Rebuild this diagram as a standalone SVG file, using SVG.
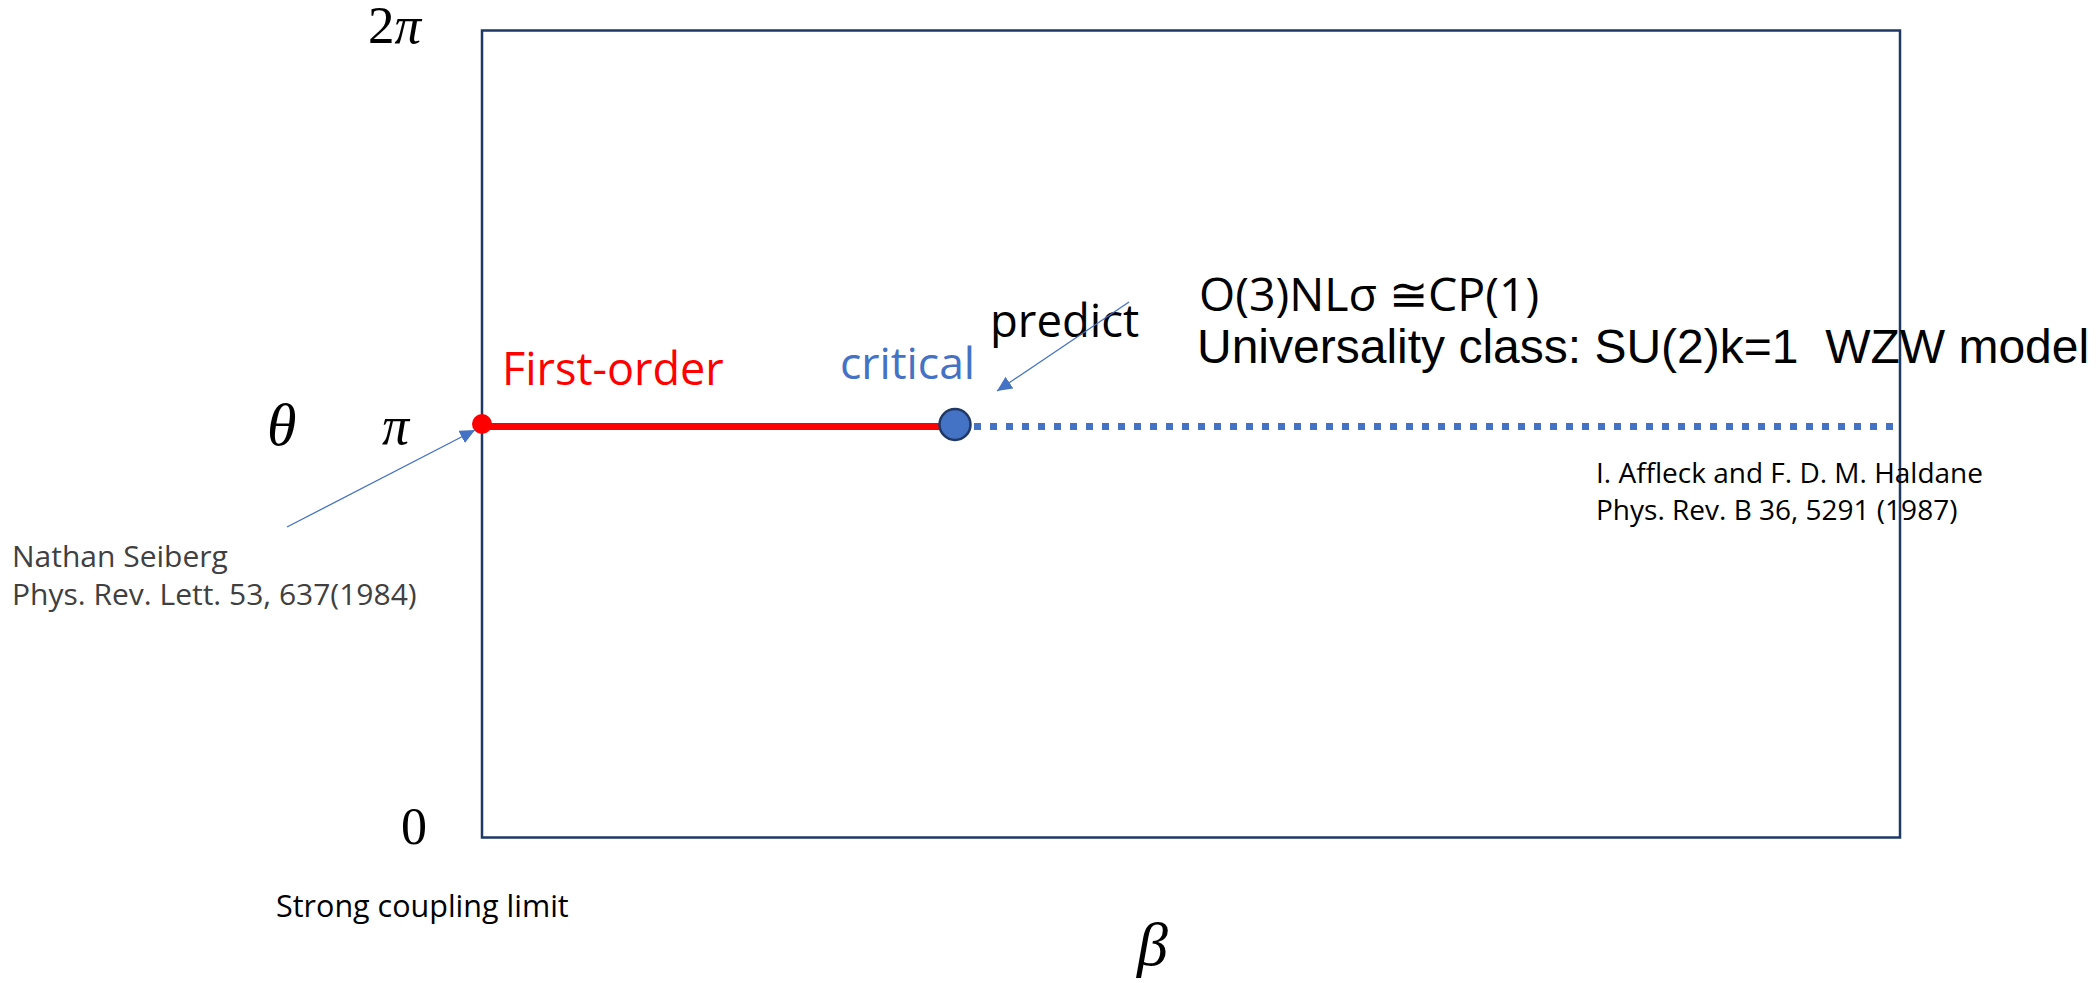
<svg xmlns="http://www.w3.org/2000/svg" width="2097" height="983" viewBox="0 0 2097 983">
<style>
.math{font-family:"Liberation Serif","DejaVu Serif",serif;fill:#000}
.it{font-style:italic}
.sans{font-family:"Open Sans","Noto Sans",sans-serif}
.arial{font-family:"Liberation Sans",Arial,sans-serif;white-space:pre}
.ref{font-family:"Open Sans","Noto Sans",sans-serif}
.conn{stroke:#4472C4;stroke-width:1.3;fill:none}
</style>
<defs>
<marker id="ah" markerUnits="userSpaceOnUse" markerWidth="16" markerHeight="14" refX="15" refY="7" orient="auto">
<path d="M0,0 L15,7 L0,14 z" fill="#4472C4"/>
</marker>
</defs>
<rect width="2097" height="983" fill="#fff"/>
<g id="frame">
<rect x="482" y="30.5" width="1418" height="807" fill="none" stroke="#1F3864" stroke-width="2.5"/>
</g>
<g id="axis-labels">
<text class="math" x="368" y="43" font-size="53">2<tspan class="it">π</tspan></text>
<text class="math it" x="382" y="444" font-size="54">π</text>
<text class="math" x="401" y="844" font-size="52">0</text>
<text class="math it" x="267" y="445" font-size="60">θ</text>
<text class="math it" x="1137" y="965" font-size="62">β</text>
</g>
<g id="lines">
<line x1="482" y1="426.5" x2="952" y2="426.5" stroke="#FF0000" stroke-width="7"/>
<line x1="974" y1="426.5" x2="1898" y2="426.5" stroke="#4472C4" stroke-width="7" stroke-dasharray="7 9"/>
</g>
<g id="first-order-point">
<circle cx="482" cy="424" r="10" fill="#FF0000"/>
<text class="sans" x="502" y="385" font-size="45" fill="#FF0000">First-order</text>
</g>
<g id="critical-point">
<circle cx="955" cy="424.5" r="15.5" fill="#4472C4" stroke="#1F3864" stroke-width="2.5"/>
<text class="sans" x="840" y="379" font-size="44.5" fill="#4472C4">critical</text>
</g>
<g id="predict-label">
<text class="sans" x="990" y="337" font-size="45.5" fill="#000">predict</text>
</g>
<g id="theory-label">
<text class="sans" x="1199" y="311" font-size="46.5" fill="#000">O(3)NLσ ≅CP(1)</text>
<text class="arial" x="1197" y="363" font-size="48" fill="#000" xml:space="preserve">Universality class: SU(2)k=1  WZW model</text>
</g>
<g id="affleck-ref">
<text class="ref" x="1596" y="483" font-size="28" fill="#000">I. Affleck and F. D. M. Haldane</text>
<text class="ref" x="1596" y="520" font-size="28" fill="#000">Phys. Rev. B 36, 5291 (1987)</text>
</g>
<g id="seiberg-ref">
<text class="ref" x="12" y="567" font-size="30" fill="#404040">Nathan Seiberg</text>
<text class="ref" x="12" y="605" font-size="30" fill="#404040">Phys. Rev. Lett. 53, 637(1984)</text>
</g>
<g id="strong-coupling">
<text class="ref" x="276" y="917" font-size="30.5" fill="#000">Strong coupling limit</text>
</g>
<g id="connectors">
<line class="conn" x1="287" y1="527" x2="475" y2="430" marker-end="url(#ah)"/>
<line class="conn" x1="1129" y1="302" x2="997" y2="391" marker-end="url(#ah)"/>
</g>
</svg>
